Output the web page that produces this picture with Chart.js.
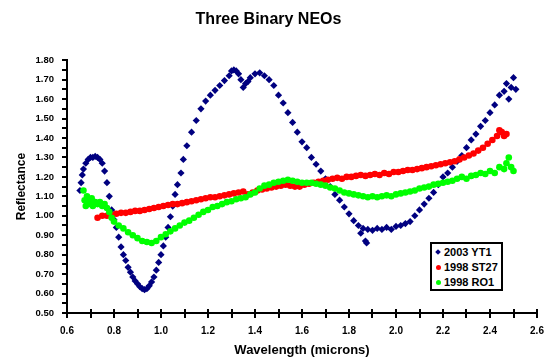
<!DOCTYPE html>
<html>
<head>
<meta charset="utf-8">
<script src="https://cdn.jsdelivr.net/npm/chart.js@4/dist/chart.umd.min.js"></script>
<style>
  html, body { margin: 0; padding: 0; background: #fff; }
  #wrap { position: relative; width: 546px; height: 358px; }
  #legend {
    position: absolute; left: 430px; top: 242px; width: 69px; height: 45px;
    border: 2px solid #000; background: #fff;
    font: bold 11px "Liberation Sans", Arial, sans-serif; color: #000;
  }
  #legend .row { position: relative; height: 15px; line-height: 15px; padding-left: 12px; }
  #legend .row:first-child { margin-top: 1px; }
  #legend .mk { position: absolute; left: 4px; top: 5px; width: 5px; height: 5px; }
  #legend .mk.circle { border-radius: 50%; }
  #legend .mk.rectRot { width: 4px; height: 4px; left: 4px; top: 5px; transform: rotate(45deg); }
</style>
</head>
<body>
<div id="wrap">
  <canvas id="neochart" width="546" height="358"></canvas>
  <div id="legend"></div>
</div>
<script>
// 2003 YT1
var yt1Wave = [0.655, 0.66, 0.665, 0.67, 0.68, 0.69, 0.70, 0.71, 0.72, 0.73, 0.74, 0.75, 0.76, 0.77, 0.78, 0.79,
  0.80, 0.81, 0.82, 0.83, 0.84, 0.85, 0.86, 0.87, 0.88, 0.89, 0.90, 0.91, 0.92, 0.93, 0.94, 0.95, 0.96, 0.97,
  0.98, 0.99, 1.00, 1.01, 1.02, 1.03, 1.04, 1.05, 1.06, 1.07, 1.085, 1.095, 1.11, 1.13, 1.15, 1.17, 1.19, 1.21,
  1.23, 1.25, 1.27, 1.29, 1.30, 1.31, 1.32, 1.33, 1.34, 1.35, 1.36, 1.37, 1.38, 1.40, 1.42, 1.44, 1.46, 1.48,
  1.50, 1.52, 1.54, 1.56, 1.58, 1.60, 1.62, 1.64, 1.66, 1.68, 1.70, 1.72, 1.74, 1.76, 1.78, 1.80, 1.82, 1.84,
  1.85, 1.86, 1.87, 1.875, 1.88, 1.90, 1.92, 1.94, 1.96, 1.98, 2.00, 2.02, 2.04, 2.06, 2.08, 2.10, 2.12, 2.14,
  2.16, 2.18, 2.20, 2.22, 2.24, 2.26, 2.28, 2.30, 2.32, 2.34, 2.36, 2.38, 2.40, 2.42, 2.44, 2.46, 2.47, 2.48,
  2.49, 2.50, 2.51];
var yt1Refl = [1.13, 1.17, 1.21, 1.24, 1.27, 1.29, 1.30, 1.30, 1.305, 1.30, 1.29, 1.27, 1.23, 1.17, 1.10, 1.03,
  0.98, 0.94, 0.89, 0.84, 0.80, 0.77, 0.735, 0.71, 0.685, 0.665, 0.65, 0.635, 0.625, 0.62, 0.625, 0.64, 0.66, 0.685,
  0.72, 0.76, 0.80, 0.845, 0.89, 0.94, 0.995, 1.05, 1.11, 1.16, 1.22, 1.29, 1.36, 1.43, 1.49, 1.55, 1.59, 1.62,
  1.645, 1.67, 1.695, 1.72, 1.745, 1.75, 1.745, 1.73, 1.70, 1.66, 1.68, 1.69, 1.71, 1.73, 1.735, 1.72, 1.70, 1.67,
  1.62, 1.58, 1.53, 1.48, 1.43, 1.38, 1.35, 1.30, 1.265, 1.23, 1.19, 1.15, 1.11, 1.08, 1.045, 1.01, 0.975, 0.95,
  0.91, 0.935, 0.87, 0.86, 0.93, 0.925, 0.935, 0.93, 0.94, 0.93, 0.945, 0.95, 0.96, 0.97, 1.00, 1.03, 1.06, 1.09,
  1.12, 1.16, 1.20, 1.22, 1.25, 1.28, 1.31, 1.35, 1.39, 1.42, 1.46, 1.49, 1.53, 1.57, 1.62, 1.64, 1.68, 1.60,
  1.66, 1.71, 1.65];

// 1998 ST27
var st27Wave = [0.73, 0.75, 0.77, 0.79, 0.81, 0.83, 0.85, 0.87, 0.89, 0.91, 0.93, 0.95, 0.97, 0.99, 1.01, 1.03,
  1.05, 1.07, 1.09, 1.11, 1.13, 1.15, 1.17, 1.19, 1.21, 1.23, 1.25, 1.27, 1.29, 1.31, 1.33, 1.35, 1.37, 1.39,
  1.41, 1.43, 1.45, 1.47, 1.49, 1.51, 1.53, 1.55, 1.57, 1.59, 1.61, 1.63, 1.65, 1.67, 1.69, 1.71, 1.73, 1.75,
  1.77, 1.79, 1.81, 1.83, 1.85, 1.87, 1.89, 1.91, 1.93, 1.95, 1.97, 1.99, 2.01, 2.03, 2.05, 2.07, 2.09, 2.11,
  2.13, 2.15, 2.17, 2.19, 2.21, 2.23, 2.25, 2.27, 2.29, 2.31, 2.33, 2.35, 2.37, 2.39, 2.41, 2.43, 2.44, 2.45,
  2.46, 2.47];
var st27Refl = [0.99, 1.00, 1.00, 1.005, 1.01, 1.015, 1.015, 1.02, 1.025, 1.025, 1.03, 1.035, 1.04, 1.045, 1.05, 1.055,
  1.06, 1.06, 1.065, 1.07, 1.075, 1.08, 1.085, 1.09, 1.095, 1.095, 1.10, 1.105, 1.11, 1.115, 1.12, 1.125, 1.11, 1.12,
  1.13, 1.135, 1.14, 1.145, 1.15, 1.155, 1.16, 1.155, 1.15, 1.15, 1.16, 1.165, 1.17, 1.175, 1.18, 1.185, 1.19, 1.195,
  1.19, 1.20, 1.20, 1.205, 1.21, 1.205, 1.21, 1.215, 1.21, 1.22, 1.215, 1.225, 1.225, 1.23, 1.235, 1.235, 1.24, 1.245,
  1.25, 1.255, 1.26, 1.265, 1.27, 1.275, 1.28, 1.29, 1.30, 1.31, 1.32, 1.335, 1.35, 1.37, 1.39, 1.41, 1.44, 1.43,
  1.41, 1.42];

// 1998 RO1
var ro1Wave = [0.67, 0.675, 0.68, 0.685, 0.69, 0.70, 0.705, 0.71, 0.72, 0.73, 0.74, 0.75, 0.76, 0.77, 0.78, 0.79,
  0.80, 0.82, 0.84, 0.86, 0.88, 0.90, 0.92, 0.94, 0.96, 0.98, 1.00, 1.02, 1.04, 1.06, 1.08, 1.10, 1.12, 1.14,
  1.16, 1.18, 1.20, 1.22, 1.24, 1.26, 1.28, 1.30, 1.32, 1.34, 1.36, 1.38, 1.40, 1.42, 1.44, 1.46, 1.48, 1.50,
  1.52, 1.54, 1.56, 1.58, 1.60, 1.62, 1.64, 1.66, 1.68, 1.70, 1.72, 1.74, 1.76, 1.78, 1.80, 1.82, 1.84, 1.86,
  1.88, 1.90, 1.92, 1.94, 1.96, 1.98, 2.00, 2.02, 2.04, 2.06, 2.08, 2.10, 2.12, 2.14, 2.16, 2.18, 2.20, 2.22,
  2.24, 2.26, 2.28, 2.30, 2.32, 2.34, 2.36, 2.38, 2.40, 2.42, 2.44, 2.46, 2.47, 2.48, 2.49, 2.50];
var ro1Refl = [1.13, 1.08, 1.05, 1.10, 1.07, 1.06, 1.09, 1.05, 1.07, 1.06, 1.07, 1.05, 1.06, 1.04, 1.02, 0.99,
  0.97, 0.95, 0.935, 0.915, 0.90, 0.885, 0.87, 0.865, 0.86, 0.87, 0.89, 0.905, 0.92, 0.935, 0.95, 0.965, 0.975, 0.99,
  1.005, 1.02, 1.03, 1.045, 1.05, 1.06, 1.07, 1.075, 1.085, 1.09, 1.095, 1.11, 1.12, 1.14, 1.155, 1.16, 1.17, 1.175,
  1.18, 1.185, 1.18, 1.175, 1.17, 1.17, 1.17, 1.165, 1.16, 1.155, 1.145, 1.14, 1.13, 1.12, 1.115, 1.11, 1.105, 1.10,
  1.095, 1.10, 1.095, 1.10, 1.105, 1.10, 1.11, 1.115, 1.12, 1.125, 1.13, 1.14, 1.145, 1.15, 1.16, 1.165, 1.17, 1.175,
  1.18, 1.19, 1.20, 1.19, 1.205, 1.21, 1.22, 1.215, 1.23, 1.22, 1.25, 1.24, 1.27, 1.30, 1.25, 1.23];

var xTickLabels = ['0.6', '0.8', '1.0', '1.2', '1.4', '1.6', '1.8', '2.0', '2.2', '2.4', '2.6'];
var yTickLabels = ['0.50', '0.60', '0.70', '0.80', '0.90', '1.00', '1.10', '1.20', '1.30', '1.40', '1.50',
  '1.60', '1.70', '1.80'];

var FONT = '"Liberation Sans", Arial, sans-serif';

function toPoints(xs, ys) {
  var pts = [];
  for (var i = 0; i < xs.length; i++) {
    pts.push({ x: xs[i], y: ys[i] });
  }
  return pts;
}

// short tick marks on the inner side of the x axis
var innerTicks = {
  id: 'innerTicks',
  afterDraw: function (chart) {
    var xs = chart.scales.x, area = chart.chartArea, ctx = chart.ctx;
    ctx.save();
    ctx.strokeStyle = '#000';
    ctx.lineWidth = 2;
    xs.ticks.forEach(function (t) {
      var px = Math.round(xs.getPixelForValue(t.value));
      ctx.beginPath();
      ctx.moveTo(px, area.bottom);
      ctx.lineTo(px, area.bottom - 4);
      ctx.stroke();
    });
    ctx.restore();
  }
};

function buildLegend(chart) {
  var box = document.getElementById('legend');
  chart.data.datasets.forEach(function (ds) {
    var row = document.createElement('div');
    row.className = 'row';
    var mk = document.createElement('span');
    mk.className = 'mk ' + ds.pointStyle;
    mk.style.background = ds.backgroundColor;
    row.appendChild(mk);
    row.appendChild(document.createTextNode(ds.label));
    box.appendChild(row);
  });
}

var ctx = document.getElementById('neochart');
var chart = new Chart(ctx, {
  type: 'scatter',
  data: {
    datasets: [
      {
        label: '2003 YT1',
        data: toPoints(yt1Wave, yt1Refl),
        pointStyle: 'rectRot',
        pointRadius: 3.6,
        borderWidth: 0,
        backgroundColor: '#000080',
        borderColor: '#000080',
        order: 3
      },
      {
        label: '1998 ST27',
        data: toPoints(st27Wave, st27Refl),
        pointStyle: 'circle',
        pointRadius: 3.3,
        borderWidth: 0,
        backgroundColor: '#FF0000',
        borderColor: '#FF0000',
        order: 2
      },
      {
        label: '1998 RO1',
        data: toPoints(ro1Wave, ro1Refl),
        pointStyle: 'circle',
        pointRadius: 3.3,
        borderWidth: 0,
        backgroundColor: '#00FF00',
        borderColor: '#00FF00',
        order: 1
      }
    ]
  },
  options: {
    responsive: false,
    animation: false,
    devicePixelRatio: 1,
    layout: { padding: { left: 0, right: 9, top: 0, bottom: 0 } },
    plugins: {
      legend: { display: false },
      tooltip: { enabled: false },
      title: {
        display: true,
        text: 'Three Binary NEOs',
        color: '#000',
        font: { family: FONT, size: 16, weight: 'bold' },
        padding: { top: 10, bottom: 31 }
      }
    },
    scales: {
      x: {
        type: 'linear',
        min: 0.6,
        max: 2.6,
        border: { display: true, color: '#000', width: 2 },
        grid: { drawOnChartArea: false, drawTicks: true, tickLength: 5, color: '#000', lineWidth: 2 },
        ticks: {
          stepSize: 0.1,
          autoSkip: false,
          maxRotation: 0,
          padding: 7,
          color: '#000',
          font: { family: FONT, size: 10, weight: 'bold' },
          callback: function (v) {
            var s = v.toFixed(1);
            return xTickLabels.indexOf(s) >= 0 ? s : '';
          }
        },
        title: {
          display: true,
          text: 'Wavelength (microns)',
          color: '#000',
          font: { family: FONT, size: 13, weight: 'bold' },
          padding: { top: 0, bottom: 0 }
        },
        afterFit: function (scale) {
          scale.height = 45;
          scale.paddingRight = 0;
        }
      },
      y: {
        type: 'linear',
        min: 0.5,
        max: 1.8,
        border: { display: true, color: '#000', width: 2 },
        grid: { drawOnChartArea: false, drawTicks: true, tickLength: 5, color: '#000', lineWidth: 2 },
        ticks: {
          stepSize: 0.05,
          autoSkip: false,
          padding: 8,
          color: '#000',
          font: { family: FONT, size: 9.5, weight: 'bold' },
          callback: function (v) {
            var s = v.toFixed(2);
            return yTickLabels.indexOf(s) >= 0 ? s : '';
          }
        },
        title: {
          display: true,
          text: 'Reflectance',
          color: '#000',
          font: { family: FONT, size: 12, weight: 'bold' },
          padding: { top: 14, bottom: 0 }
        },
        afterFit: function (scale) { scale.width = 67; }
      }
    }
  },
  plugins: [innerTicks]
});

buildLegend(chart);
</script>
</body>
</html>
